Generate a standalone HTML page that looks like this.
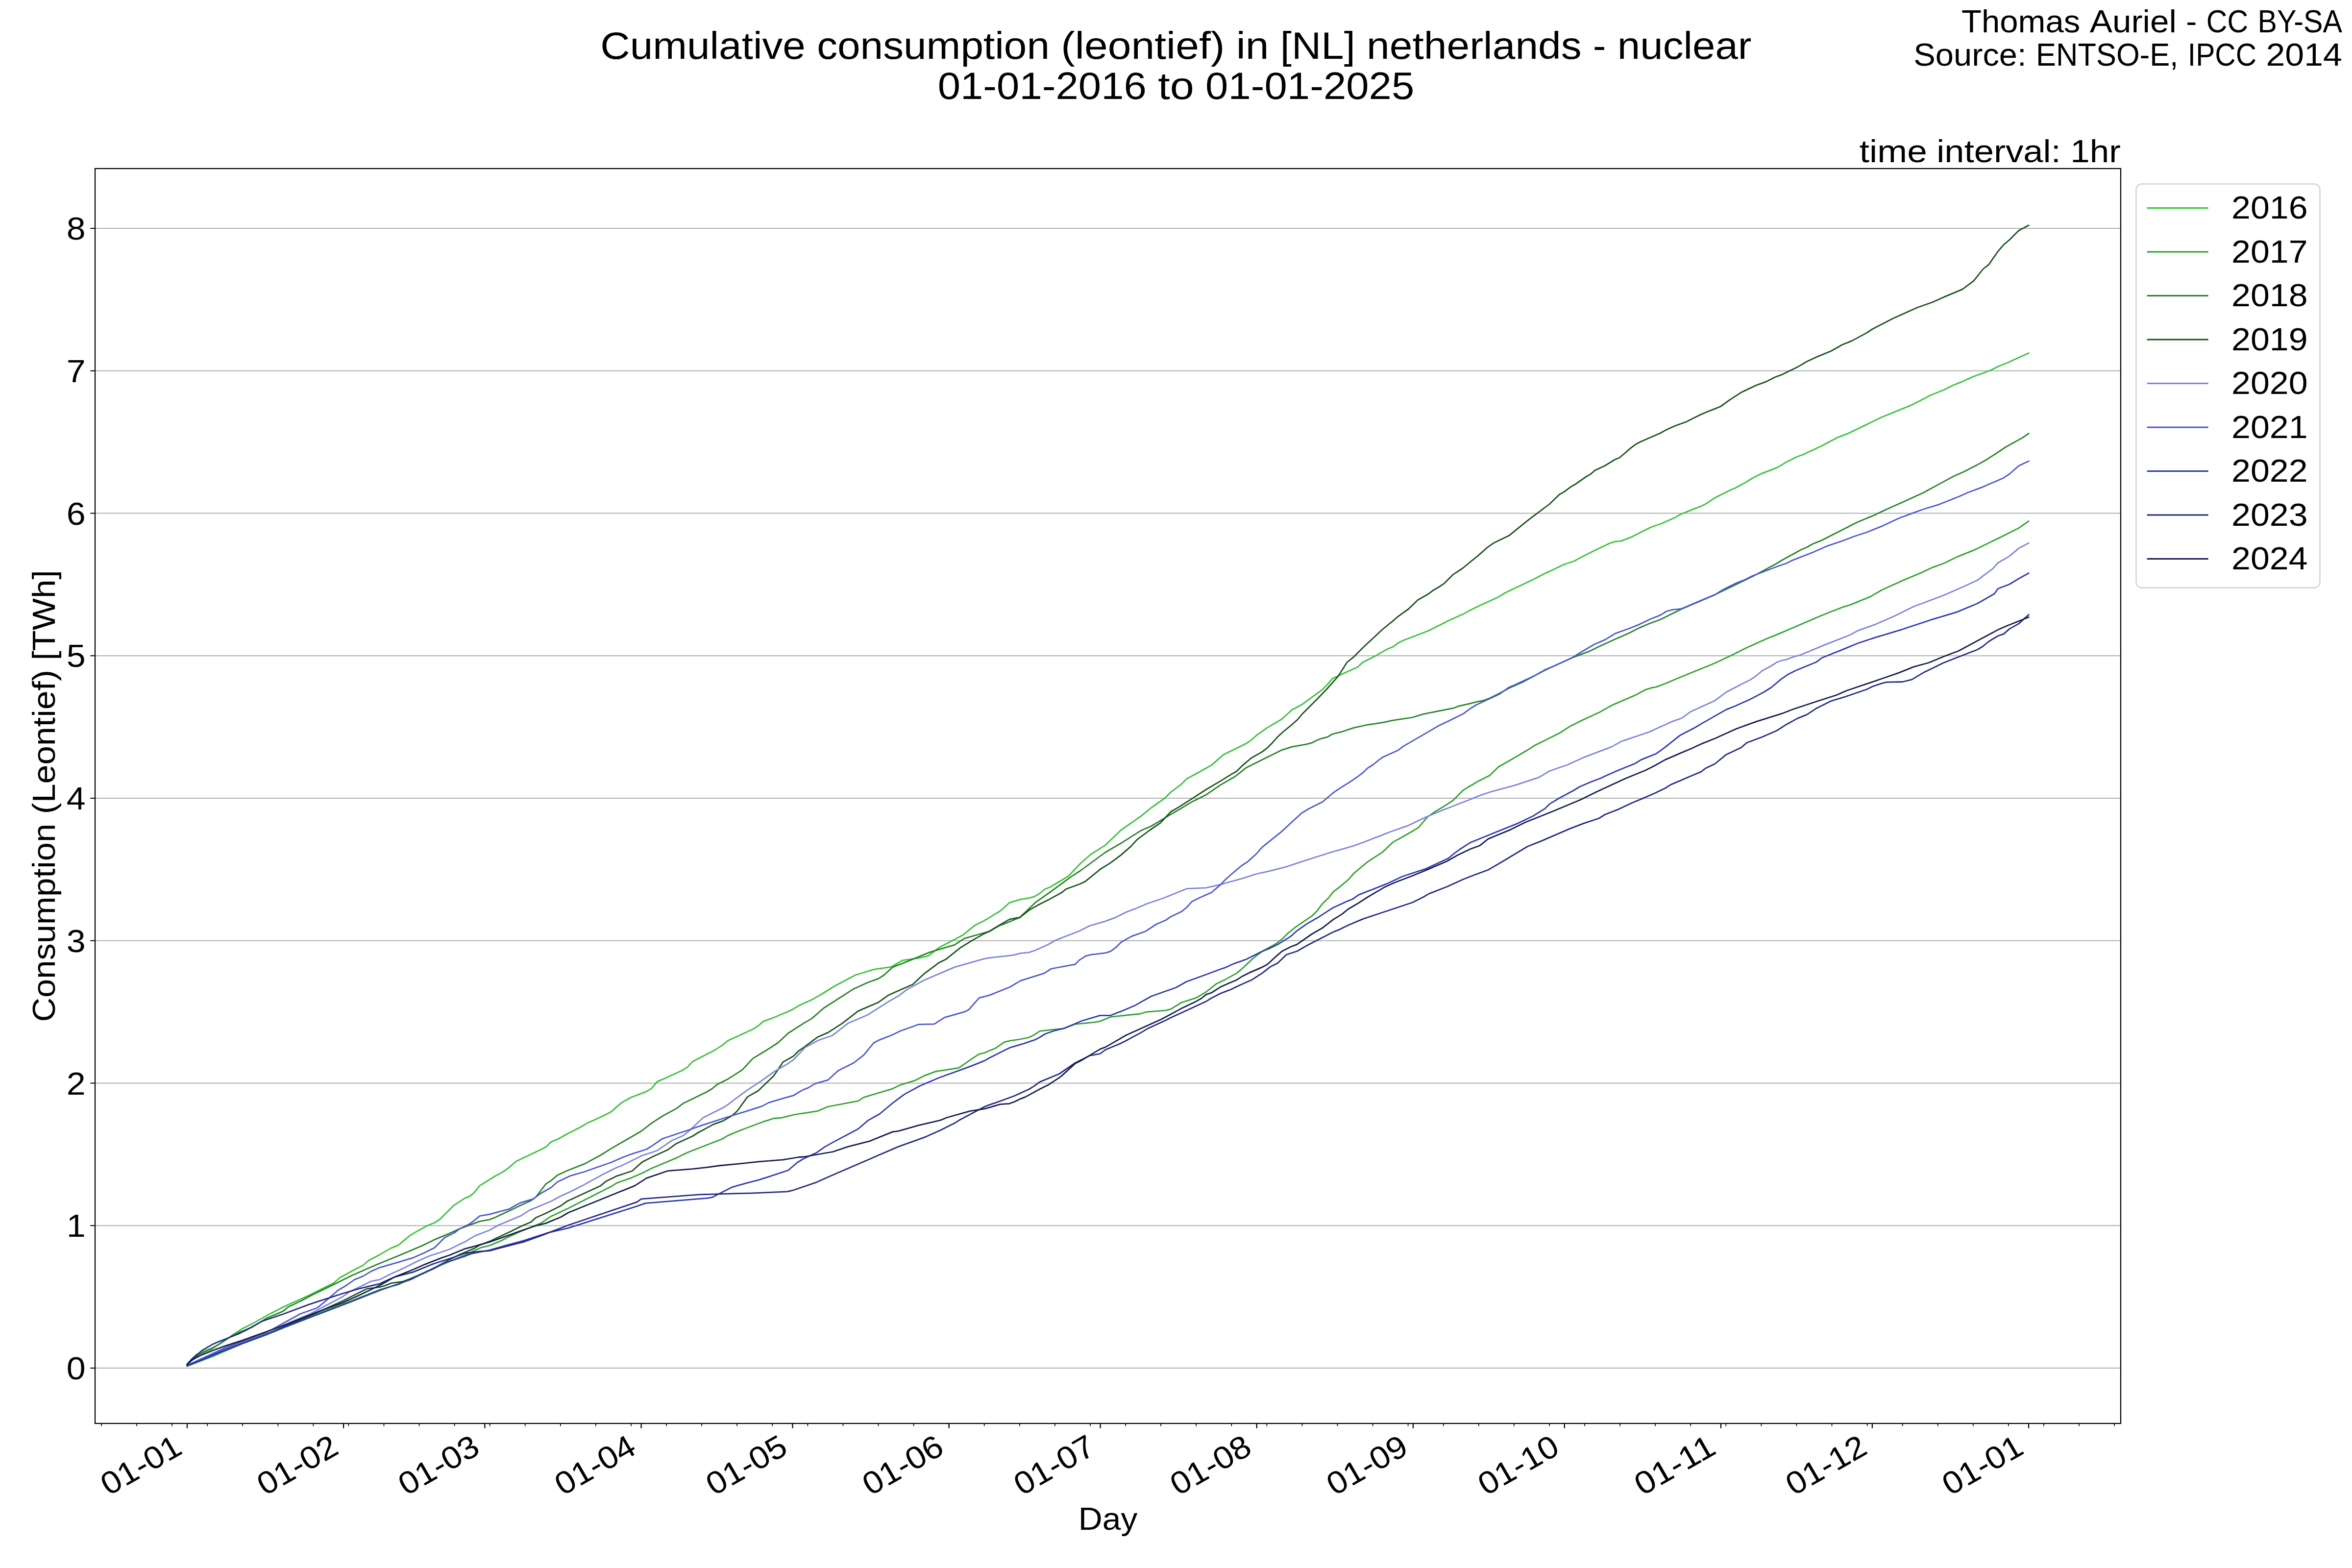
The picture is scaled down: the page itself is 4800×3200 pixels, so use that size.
<!DOCTYPE html>
<html><head><meta charset="utf-8"><title>Cumulative consumption (leontief) in [NL] netherlands - nuclear</title>
<style>html,body{margin:0;padding:0;background:#fff;overflow:hidden;width:4800px;height:3200px}svg{display:block}text{font-family:"Liberation Sans",sans-serif}</style></head>
<body><svg width="4800" height="3200" viewBox="0 0 4800 3200">
<rect x="0" y="0" width="4800" height="3200" fill="#ffffff"/>
<path d="M194 2792H4328M194 2501.25H4328M194 2210.5H4328M194 1919.75H4328M194 1629H4328M194 1338.25H4328M194 1047.5H4328M194 756.75H4328M194 466H4328" stroke="#b0b0b0" stroke-width="2.22" fill="none" stroke-linecap="butt"/>
<clipPath id="ax"><rect x="194" y="344" width="4134" height="2561"/></clipPath>
<g clip-path="url(#ax)" fill="none" stroke-width="2.78" stroke-linejoin="round" stroke-linecap="square">
<path d="M381.9 2783.2 400.5 2764.5 432.8 2750.9 453.2 2739.8 473.6 2725.4 494.0 2711.8 514.5 2701.6 545.1 2684.6 579.1 2666.7 596.1 2659.0 630.1 2643.7 681.1 2618.2 693.0 2608.0 723.6 2591.0 740.6 2582.5 752.6 2572.3 775.0 2560.4 797.8 2547.4 813.1 2541.1 836.0 2521.9 846.2 2515.6 871.7 2501.5 887.0 2495.2 897.2 2488.8 925.3 2460.7 948.3 2445.4 958.5 2441.6 968.7 2432.7 978.9 2419.9 1009.5 2400.8 1022.2 2393.9 1029.9 2389.3 1040.1 2381.6 1052.9 2370.2 1103.9 2345.9 1114.1 2340.8 1124.3 2330.6 1140.0 2324.0 1156.1 2314.7 1182.8 2301.3 1198.9 2291.9 1228.4 2278.5 1247.1 2269.1 1268.5 2250.4 1287.3 2239.7 1319.4 2227.6 1330.1 2220.9 1340.9 2207.6 1359.6 2199.5 1391.7 2184.8 1402.5 2178.1 1413.2 2166.6 1456.0 2144.6 1474.8 2132.6 1485.5 2123.7 1536.4 2100.4 1547.1 2093.7 1557.8 2084.4 1576.5 2077.7 1608.7 2064.3 1619.4 2058.9 1630.1 2052.2 1640.0 2047.7 1657.4 2039.9 1677.9 2028.2 1701.4 2013.5 1745.4 1990.0 1783.5 1978.3 1818.8 1973.3 1842.2 1959.8 1877.4 1954.8 1895.0 1950.4 1915.6 1934.3 1965.5 1907.9 1988.9 1888.8 2006.5 1880.0 2020.0 1872.1 2030.7 1865.4 2040.1 1860.0 2049.5 1852.0 2060.2 1842.1 2081.6 1835.9 2100.3 1832.7 2111.1 1829.8 2121.8 1823.3 2132.5 1814.5 2143.2 1810.5 2180.7 1787.7 2204.8 1762.3 2226.2 1743.5 2255.7 1724.8 2287.8 1694.0 2328.0 1665.9 2349.4 1648.5 2376.2 1629.7 2389.6 1616.3 2411.0 1600.3 2421.7 1589.5 2451.2 1573.5 2472.6 1561.4 2497.0 1540.1 2521.4 1528.2 2542.8 1517.5 2553.6 1510.3 2564.3 1500.7 2585.7 1485.4 2615.2 1468.0 2636.6 1448.7 2658.0 1437.2 2698.2 1407.7 2708.9 1397.0 2719.6 1384.4 2759.8 1366.2 2770.5 1361.4 2781.2 1351.5 2808.0 1338.1 2821.4 1330.1 2832.1 1324.2 2842.8 1320.1 2853.5 1312.1 2864.2 1306.8 2915.1 1287.2 2955.3 1267.1 2987.4 1252.4 3000.0 1245.6 3019.9 1235.7 3039.8 1226.7 3056.4 1219.1 3072.9 1209.2 3129.3 1182.6 3152.5 1170.4 3162.5 1166.1 3192.3 1151.8 3212.2 1145.2 3225.5 1137.9 3252.0 1124.6 3285.1 1108.7 3295.1 1105.4 3308.4 1104.1 3328.2 1096.4 3368.0 1076.5 3391.2 1068.2 3417.8 1056.6 3431.0 1049.0 3450.9 1041.1 3470.8 1033.4 3480.8 1028.5 3490.7 1021.8 3500.0 1015.8 3530.6 1000.5 3542.1 995.5 3561.2 985.2 3576.5 975.7 3595.7 966.1 3626.3 954.6 3645.4 943.1 3668.3 931.7 3679.8 927.8 3718.1 909.8 3748.7 893.4 3771.7 884.6 3840.5 851.3 3901.7 826.4 3940.0 806.5 3966.8 795.8 3985.9 786.3 4005.0 778.6 4028.0 768.3 4062.4 755.7 4077.7 748.0 4096.9 740.3 4140.1 720.5" stroke="#33c233"/>
<path d="M381.9 2788.3 434.5 2767.9 494.0 2742.4 545.1 2723.7 587.6 2705.8 647.1 2681.2 715.1 2655.6 775.0 2631.8 813.1 2621.4 856.4 2601.0 917.7 2574.2 948.3 2561.5 981.4 2546.2 999.3 2541.8 1019.7 2533.4 1042.7 2521.9 1063.1 2513.0 1103.9 2496.4 1124.3 2482.4 1160.0 2465.8 1249.8 2419.9 1257.8 2414.6 1290.0 2403.1 1311.4 2393.7 1330.1 2384.3 1381.0 2362.9 1402.5 2352.2 1474.8 2324.0 1485.5 2317.4 1514.9 2305.3 1557.8 2289.2 1579.2 2282.5 1595.3 2281.2 1622.1 2274.5 1640.0 2271.8 1669.1 2267.3 1689.6 2258.5 1751.3 2246.8 1763.0 2239.4 1821.7 2221.8 1836.4 2214.5 1865.7 2205.7 1886.2 2195.4 1909.7 2186.6 1956.7 2179.3 1980.1 2163.2 1997.7 2151.4 2009.5 2148.5 2020.0 2143.8 2030.7 2139.8 2049.5 2126.9 2060.2 2124.2 2081.6 2121.0 2100.3 2117.0 2111.1 2111.7 2121.8 2104.4 2137.8 2102.3 2170.0 2099.1 2194.1 2090.2 2212.8 2088.4 2234.2 2086.2 2245.0 2084.1 2266.4 2075.5 2277.1 2074.2 2328.0 2068.8 2338.7 2065.3 2349.4 2064.3 2378.9 2062.1 2389.6 2059.4 2411.0 2046.0 2440.5 2036.7 2459.2 2026.0 2483.3 2007.2 2500.0 1999.4 2524.5 1985.6 2533.7 1977.9 2558.2 1955.0 2576.5 1941.2 2604.1 1925.9 2616.4 1916.7 2628.6 1904.5 2643.9 1892.2 2677.6 1869.2 2686.8 1860.1 2699.0 1844.1 2711.3 1832.5 2720.5 1820.3 2732.7 1811.1 2751.1 1795.8 2763.3 1782.0 2790.9 1759.0 2800.1 1752.9 2821.5 1739.1 2842.9 1718.6 2861.3 1708.5 2882.7 1696.3 2895.0 1688.6 2913.3 1667.2 2928.7 1656.4 2944.0 1647.3 2965.4 1633.5 2986.8 1612.1 3000.0 1604.2 3018.4 1593.4 3039.8 1582.7 3058.2 1565.0 3088.8 1547.5 3116.4 1531.3 3131.7 1521.5 3162.3 1506.2 3183.7 1495.5 3205.1 1481.7 3226.6 1471.0 3263.3 1454.1 3290.9 1438.8 3336.8 1418.9 3358.2 1407.6 3370.5 1403.6 3379.7 1402.1 3398.0 1395.3 3428.7 1382.2 3500.0 1353.2 3542.1 1333.3 3561.2 1323.4 3607.1 1302.7 3626.3 1295.1 3660.7 1280.5 3718.1 1255.7 3760.2 1239.2 3775.5 1234.6 3817.6 1217.4 3840.5 1204.0 3882.6 1184.9 3920.9 1168.8 3943.8 1158.1 3966.8 1149.7 3997.4 1135.1 4028.0 1122.9 4085.4 1095.0 4119.8 1077.7 4140.1 1063.6" stroke="#2aa22a"/>
<path d="M381.9 2784.9 405.6 2764.5 432.8 2752.6 477.0 2723.7 514.5 2708.4 545.1 2689.7 577.4 2676.1 587.6 2667.6 613.1 2655.6 638.6 2642.0 681.1 2621.6 715.1 2604.6 749.1 2589.3 775.0 2578.3 813.1 2562.8 864.1 2541.1 884.5 2530.9 915.1 2518.1 940.6 2506.6 978.9 2492.6 999.3 2488.8 1009.5 2484.9 1042.7 2469.6 1063.1 2459.4 1083.5 2450.5 1093.7 2442.9 1114.1 2416.1 1124.3 2409.7 1137.2 2398.6 1156.1 2389.7 1193.6 2374.9 1225.7 2357.5 1247.1 2344.1 1308.7 2308.5 1330.1 2291.9 1351.6 2278.0 1381.0 2261.9 1394.4 2251.7 1442.6 2228.2 1453.3 2221.7 1464.0 2212.9 1485.5 2202.2 1514.9 2183.4 1536.4 2160.1 1557.8 2147.3 1587.2 2128.5 1608.7 2108.5 1640.0 2088.4 1657.4 2078.1 1680.8 2057.5 1742.5 2017.9 1771.8 2004.7 1792.3 1997.4 1804.1 1990.0 1821.7 1973.9 1848.1 1963.6 1898.0 1943.1 1947.9 1928.4 1968.4 1915.2 2009.5 1903.5 2020.0 1900.2 2038.7 1889.5 2049.5 1885.5 2081.6 1872.1 2113.7 1841.3 2140.5 1822.5 2186.0 1789.1 2204.8 1777.0 2255.7 1739.5 2287.8 1720.8 2328.0 1695.3 2349.4 1686.0 2389.6 1661.9 2405.6 1652.5 2432.4 1636.4 2461.9 1621.7 2491.3 1601.6 2520.0 1585.0 2526.8 1579.9 2542.8 1567.1 2572.3 1552.3 2615.2 1530.9 2636.6 1524.2 2666.0 1518.9 2676.8 1516.2 2687.5 1510.8 2698.2 1506.8 2708.9 1504.1 2719.6 1498.0 2735.7 1494.2 2762.5 1485.4 2789.2 1479.5 2821.4 1474.7 2842.8 1470.1 2883.0 1464.0 2904.4 1457.3 2966.0 1445.2 2976.7 1441.2 3000.0 1435.8 3012.2 1432.7 3027.6 1429.6 3039.8 1425.0 3055.1 1417.4 3079.6 1404.5 3107.2 1392.3 3131.7 1379.1 3153.1 1366.9 3171.5 1359.2 3208.2 1342.4 3244.9 1328.6 3263.3 1319.4 3293.9 1305.6 3324.6 1291.9 3346.0 1281.1 3367.4 1272.0 3388.9 1264.3 3410.3 1253.6 3431.7 1242.9 3500.0 1213.6 3542.1 1193.3 3576.5 1176.5 3626.3 1149.7 3637.7 1142.8 3676.0 1121.7 3687.5 1116.8 3699.0 1110.3 3718.1 1102.6 3790.8 1065.5 3821.4 1052.9 3848.2 1040.2 3882.6 1024.9 3924.7 1005.8 3966.8 982.9 3985.9 972.5 4008.9 962.2 4035.7 948.4 4051.0 940.0 4070.1 927.8 4093.0 912.5 4127.5 893.4 4140.1 884.6" stroke="#238224"/>
<path d="M381.9 2786.6 460.0 2754.3 545.1 2722.0 630.1 2686.3 698.1 2655.6 749.1 2630.1 775.0 2626.7 785.0 2624.0 797.8 2618.9 823.3 2615.1 856.4 2602.3 889.6 2585.7 917.7 2570.4 938.1 2560.2 968.7 2547.4 978.9 2541.1 999.3 2533.4 1042.7 2513.0 1063.1 2502.8 1083.5 2493.9 1093.7 2484.9 1114.1 2476.0 1144.7 2460.7 1157.4 2451.5 1225.7 2419.9 1236.4 2411.1 1257.8 2400.4 1290.0 2389.7 1311.4 2370.9 1332.8 2360.2 1362.3 2346.8 1381.0 2333.4 1413.2 2318.7 1423.9 2312.0 1456.0 2294.6 1474.8 2287.9 1493.5 2277.2 1504.2 2267.8 1525.6 2238.4 1547.1 2226.3 1579.2 2195.5 1598.0 2167.4 1619.4 2155.3 1630.1 2144.6 1640.0 2137.9 1669.1 2116.2 1689.6 2107.4 1719.0 2088.3 1751.3 2063.4 1792.3 2045.8 1812.9 2031.1 1862.8 2009.1 1886.2 1987.1 1915.6 1965.1 1930.3 1957.8 1959.6 1934.3 1986.0 1918.1 2009.5 1904.9 2020.0 1900.2 2030.7 1893.5 2060.2 1876.1 2081.6 1872.1 2100.3 1857.4 2121.8 1845.3 2140.5 1835.9 2167.3 1821.2 2175.3 1814.5 2204.8 1803.8 2215.5 1798.4 2245.0 1774.3 2266.4 1760.9 2287.8 1744.9 2309.2 1726.1 2319.9 1714.1 2346.7 1694.0 2368.2 1679.3 2389.6 1656.5 2405.6 1647.1 2435.1 1628.4 2461.9 1611.0 2491.3 1593.6 2513.4 1579.9 2524.1 1573.8 2534.8 1563.1 2553.6 1547.0 2575.0 1534.9 2585.7 1526.9 2596.4 1516.2 2607.1 1504.1 2617.8 1494.2 2636.6 1478.7 2647.3 1469.3 2658.0 1456.7 2687.5 1427.3 2708.9 1405.0 2730.3 1380.9 2749.1 1351.5 2762.5 1340.8 2781.2 1322.0 2821.4 1284.5 2842.8 1267.1 2853.5 1257.8 2874.9 1242.5 2893.7 1224.3 2915.1 1212.2 2925.8 1204.2 2936.5 1198.0 2947.2 1190.8 2955.3 1182.8 2966.0 1172.1 2984.7 1160.0 3000.0 1147.2 3016.6 1133.9 3036.5 1116.3 3049.7 1107.4 3079.6 1093.1 3106.1 1071.6 3122.7 1058.3 3162.5 1028.5 3182.4 1009.2 3192.3 1003.6 3205.6 993.6 3215.5 988.0 3235.4 973.8 3245.4 968.1 3255.3 959.8 3275.2 950.5 3295.1 938.3 3305.0 934.0 3315.0 925.7 3328.2 914.1 3338.2 906.8 3348.1 901.5 3387.9 884.2 3397.9 878.6 3417.8 869.3 3441.0 861.0 3470.8 846.1 3480.8 841.8 3500.0 834.1 3511.5 829.5 3530.6 815.7 3553.6 800.8 3584.2 786.3 3603.3 779.4 3622.4 769.8 3637.7 764.1 3668.3 749.1 3687.5 737.7 3706.6 728.9 3737.2 716.2 3760.2 703.2 3779.3 695.6 3809.9 679.1 3821.4 671.5 3863.5 649.7 3913.2 627.5 3943.8 616.8 3966.8 606.4 4005.0 590.4 4028.0 573.1 4047.1 549.0 4058.6 540.2 4077.7 512.7 4089.2 499.3 4100.7 489.7 4119.8 470.6 4140.1 459.9" stroke="#165217"/>
<path d="M381.9 2786.6 460.0 2750.0 545.1 2717.7 630.1 2682.9 698.1 2647.1 715.1 2635.2 740.6 2623.3 757.7 2614.8 775.0 2611.4 795.2 2601.0 818.2 2590.8 853.9 2573.0 874.3 2564.0 917.7 2549.5 938.1 2539.3 948.3 2534.7 968.7 2522.4 999.3 2510.5 1017.1 2500.3 1063.1 2481.1 1080.9 2469.6 1103.9 2460.2 1124.3 2451.8 1144.7 2440.8 1160.0 2433.9 1188.2 2419.9 1228.4 2397.7 1257.8 2383.0 1268.5 2379.0 1308.7 2358.9 1340.9 2348.2 1370.3 2328.1 1394.4 2317.4 1407.8 2306.6 1434.6 2281.2 1453.3 2271.8 1474.8 2261.1 1485.5 2254.4 1496.2 2245.8 1525.6 2224.4 1555.1 2204.9 1579.2 2187.5 1608.7 2170.1 1619.4 2162.8 1642.8 2137.9 1669.1 2123.5 1698.5 2113.3 1730.7 2088.3 1771.8 2070.7 1812.9 2044.3 1833.4 2032.6 1851.0 2019.4 1886.2 2000.3 1947.9 1973.9 2009.5 1956.3 2020.0 1954.6 2052.1 1951.1 2068.2 1949.2 2081.6 1945.7 2100.3 1943.6 2113.7 1939.0 2137.8 1928.3 2153.9 1919.0 2202.1 1900.2 2223.5 1889.5 2255.7 1880.1 2277.1 1872.1 2298.5 1861.4 2319.9 1853.3 2341.4 1844.0 2373.5 1833.3 2421.7 1813.7 2461.9 1811.8 2491.3 1805.1 2500.0 1802.5 2530.6 1794.2 2564.3 1783.5 2585.7 1778.9 2625.5 1768.8 2653.1 1759.6 2683.7 1749.8 2714.3 1740.0 2760.3 1726.9 2781.7 1719.2 2821.5 1703.9 2836.8 1697.8 2873.5 1684.9 2907.2 1668.7 2944.0 1653.4 2956.2 1648.8 2977.6 1640.2 3000.0 1631.7 3018.4 1624.1 3042.9 1615.8 3091.9 1602.6 3140.8 1586.4 3162.3 1573.5 3199.0 1560.7 3232.7 1545.4 3287.8 1524.6 3309.2 1512.9 3367.4 1493.3 3379.7 1487.2 3398.0 1479.2 3410.3 1473.4 3431.7 1465.8 3450.1 1452.6 3500.0 1429.7 3523.0 1412.5 3549.7 1398.4 3572.7 1386.9 3584.2 1379.2 3595.7 1369.3 3614.8 1359.0 3626.3 1351.3 3637.7 1347.5 3645.4 1346.3 3656.9 1341.7 3676.0 1336.0 3721.9 1316.9 3775.5 1295.8 3790.8 1287.4 3829.0 1273.6 3867.3 1256.8 3905.6 1237.7 3924.7 1230.8 3966.8 1214.7 4005.0 1198.3 4035.7 1184.1 4047.1 1175.3 4066.3 1161.1 4077.7 1148.5 4100.7 1135.1 4119.8 1119.1 4140.1 1108.3" stroke="#7a82dc"/>
<path d="M381.9 2786.6 460.0 2750.9 545.1 2718.6 613.1 2681.2 647.1 2669.3 664.1 2655.6 689.6 2633.5 706.6 2623.3 723.6 2611.4 740.6 2604.6 757.7 2594.4 775.0 2586.8 805.4 2578.1 843.7 2566.6 866.6 2556.4 876.8 2551.3 887.0 2546.2 907.4 2525.8 927.9 2515.6 938.1 2507.9 958.5 2497.7 968.7 2490.1 978.9 2481.6 999.3 2478.1 1040.1 2467.1 1050.3 2460.7 1063.1 2454.3 1088.6 2446.7 1103.9 2435.2 1124.3 2423.7 1137.2 2412.3 1164.1 2399.6 1193.6 2391.0 1247.1 2372.3 1268.5 2362.9 1290.0 2354.8 1319.4 2345.5 1330.1 2338.8 1351.6 2324.0 1407.8 2305.3 1434.6 2295.9 1488.2 2278.5 1523.0 2267.8 1555.1 2257.6 1568.5 2250.4 1595.3 2242.4 1619.4 2235.7 1630.1 2229.0 1640.0 2223.6 1648.6 2220.4 1663.2 2211.6 1689.6 2204.2 1710.2 2185.2 1742.5 2169.0 1763.0 2152.9 1783.5 2127.9 1795.3 2122.1 1821.7 2111.8 1836.4 2104.5 1874.5 2090.7 1906.8 2089.8 1927.3 2076.6 1968.4 2064.9 1977.2 2060.5 1998.1 2036.7 2019.2 2031.1 2061.3 2014.2 2082.3 2001.6 2131.4 1986.2 2145.5 1977.0 2194.6 1967.9 2202.1 1959.9 2215.5 1951.1 2226.2 1948.4 2255.7 1944.9 2266.4 1941.7 2277.1 1933.7 2287.8 1923.0 2309.2 1910.9 2338.7 1900.2 2360.1 1886.0 2378.9 1878.0 2389.6 1870.7 2411.0 1860.6 2421.7 1852.0 2432.4 1839.9 2448.5 1831.9 2472.6 1821.2 2491.3 1805.1 2500.0 1795.8 2512.2 1785.0 2533.7 1766.7 2545.9 1759.0 2564.3 1742.2 2576.5 1728.4 2591.9 1716.2 2616.4 1696.3 2637.8 1676.4 2656.2 1659.5 2671.5 1650.3 2689.8 1641.1 2699.0 1636.5 2720.5 1618.2 2738.8 1605.9 2751.1 1598.3 2769.4 1586.0 2781.7 1576.8 2790.9 1567.7 2803.1 1560.0 2813.3 1551.5 2821.4 1545.6 2853.5 1530.9 2864.2 1522.9 2915.1 1493.4 2936.5 1480.8 2955.3 1472.0 2987.4 1455.9 3000.0 1446.5 3012.2 1438.8 3039.8 1426.0 3061.2 1415.9 3079.6 1402.7 3091.9 1397.5 3131.7 1379.1 3153.1 1367.8 3171.5 1359.2 3208.2 1342.4 3226.6 1331.0 3254.1 1314.8 3275.6 1305.6 3297.0 1292.5 3324.6 1282.7 3346.0 1274.1 3367.4 1263.7 3388.9 1255.1 3401.1 1247.5 3413.3 1244.4 3431.7 1242.3 3459.3 1230.6 3500.0 1213.6 3515.3 1204.0 3542.1 1190.6 3561.2 1183.0 3576.5 1175.3 3607.1 1163.8 3626.3 1156.2 3645.4 1149.7 3656.9 1143.9 3699.0 1127.5 3729.6 1114.1 3760.2 1103.8 3783.1 1095.0 3809.9 1086.2 3840.5 1073.9 3875.0 1057.8 3905.6 1046.4 3924.7 1039.5 3959.1 1028.8 3997.4 1013.5 4016.5 1005.0 4047.1 993.6 4089.2 975.2 4100.7 967.5 4119.8 950.7 4140.1 941.1" stroke="#4a55d2"/>
<path d="M381.9 2787.4 460.0 2755.1 545.1 2722.8 630.1 2689.7 715.1 2657.3 775.0 2633.5 805.4 2622.7 838.6 2611.2 853.9 2603.6 887.0 2588.3 902.3 2579.3 948.3 2564.0 961.0 2558.9 978.9 2555.1 999.3 2551.3 1029.9 2542.3 1068.2 2532.1 1119.2 2515.6 1160.0 2506.1 1300.0 2461.6 1317.0 2455.6 1444.6 2445.1 1453.1 2443.7 1493.9 2422.8 1504.2 2419.9 1525.6 2413.8 1547.1 2408.4 1568.5 2401.7 1608.7 2388.3 1627.4 2372.3 1640.0 2364.8 1667.3 2351.9 1683.8 2340.1 1704.3 2328.9 1751.3 2304.0 1771.8 2286.4 1795.3 2273.2 1821.7 2251.2 1845.2 2233.6 1877.4 2216.0 1915.6 2199.8 1980.1 2176.4 2009.5 2164.6 2020.0 2158.5 2030.7 2153.2 2060.2 2138.4 2089.6 2129.6 2111.1 2122.4 2121.8 2117.0 2132.5 2110.3 2153.9 2102.8 2172.7 2098.3 2207.5 2083.5 2245.0 2072.3 2266.4 2072.3 2295.8 2060.8 2317.3 2051.4 2349.4 2033.2 2400.3 2015.2 2421.7 2003.2 2440.5 1996.5 2491.3 1977.8 2500.0 1974.9 2518.4 1966.6 2542.9 1958.0 2564.3 1947.3 2576.5 1941.2 2591.9 1935.1 2610.2 1925.9 2634.7 1910.6 2647.0 1899.3 2668.4 1884.6 2689.8 1872.3 2720.5 1852.4 2751.1 1838.6 2760.3 1835.0 2772.5 1826.4 2830.7 1803.4 2861.3 1789.0 2910.3 1772.8 2956.2 1751.4 2965.4 1743.7 2977.6 1734.5 3000.0 1719.8 3098.0 1680.1 3128.6 1665.4 3140.8 1657.7 3153.1 1650.1 3162.3 1640.9 3183.7 1628.0 3211.3 1613.3 3223.5 1605.7 3244.9 1596.5 3266.4 1588.2 3284.8 1579.7 3306.2 1570.5 3336.8 1558.2 3349.1 1550.6 3379.7 1538.3 3398.0 1525.2 3428.7 1500.7 3459.3 1484.8 3474.6 1475.6 3500.0 1461.1 3523.0 1448.1 3542.1 1440.5 3572.7 1426.7 3599.5 1412.5 3614.8 1403.0 3633.9 1386.9 3649.2 1376.2 3664.5 1368.5 3687.5 1359.0 3706.6 1351.3 3718.1 1342.5 3767.8 1322.6 3790.8 1313.0 3825.2 1301.6 3882.6 1284.3 3940.0 1265.2 3993.6 1249.1 4035.7 1231.5 4058.6 1218.5 4070.1 1211.7 4077.7 1201.3 4100.7 1192.5 4119.8 1181.0 4140.1 1169.6" stroke="#2d35b3"/>
<path d="M381.9 2784.9 392.0 2773.0 412.4 2756.0 432.8 2744.1 446.4 2738.1 470.2 2728.8 487.2 2722.0 507.7 2711.8 517.9 2705.8 536.6 2695.6 577.4 2682.0 630.1 2662.4 655.6 2653.9 698.1 2640.3 732.1 2630.1 775.0 2619.9 782.4 2616.3 805.4 2606.1 843.7 2595.9 884.5 2579.3 927.9 2565.3 948.3 2557.7 978.9 2553.8 999.3 2552.6 1042.7 2541.1 1068.2 2534.7 1103.9 2521.9 1160.0 2500.3 1300.0 2453.1 1308.5 2446.8 1427.6 2437.8 1538.1 2434.9 1606.1 2431.8 1618.0 2429.3 1665.6 2413.1 1700.0 2397.8 1833.4 2340.1 1889.2 2320.1 1921.5 2305.5 1947.9 2292.3 1959.6 2284.9 2009.5 2258.5 2020.0 2254.4 2030.7 2250.9 2070.9 2236.2 2100.3 2222.8 2111.1 2216.1 2121.8 2208.1 2161.9 2191.5 2194.1 2169.2 2223.5 2154.5 2245.0 2150.5 2255.7 2142.5 2287.8 2129.1 2295.8 2125.0 2328.0 2107.6 2341.4 2099.6 2378.9 2082.2 2389.6 2076.8 2411.0 2066.9 2461.9 2043.4 2472.6 2036.7 2491.3 2027.3 2500.0 2023.9 2512.2 2019.3 2524.5 2013.2 2555.1 1999.4 2576.5 1985.6 2591.9 1973.3 2607.2 1965.7 2625.5 1948.2 2647.0 1941.2 2668.4 1929.0 2720.5 1902.3 2732.7 1897.4 2751.1 1888.2 2781.7 1875.4 2809.2 1866.2 2882.7 1841.7 2904.2 1831.0 2916.4 1823.9 2953.2 1809.5 2986.8 1794.2 3000.0 1789.0 3037.0 1775.2 3060.0 1762.0 3117.4 1727.5 3146.1 1716.1 3203.4 1691.4 3232.7 1680.1 3263.3 1670.0 3275.6 1662.3 3303.1 1651.6 3330.7 1638.5 3358.2 1627.1 3376.6 1618.9 3398.0 1608.8 3410.3 1601.1 3453.2 1582.7 3471.5 1575.1 3480.7 1568.0 3500.0 1558.8 3523.0 1539.9 3553.6 1525.4 3565.0 1515.8 3595.7 1504.3 3626.3 1491.0 3645.4 1478.7 3668.3 1466.1 3687.5 1458.4 3706.6 1445.8 3737.2 1430.5 3767.8 1421.3 3809.9 1406.8 3821.4 1401.0 3844.3 1393.4 3852.0 1392.2 3882.6 1391.5 3901.7 1386.9 3924.7 1373.1 3966.8 1352.5 4008.9 1336.0 4035.7 1325.7 4047.1 1318.8 4058.6 1309.2 4077.7 1297.7 4089.2 1293.9 4100.7 1283.6 4119.8 1272.9 4140.1 1254.5" stroke="#202885"/>
<path d="M381.9 2784.9 392.0 2775.5 409.0 2766.2 434.5 2756.0 460.0 2746.6 494.0 2735.6 536.6 2720.3 584.2 2703.3 613.1 2691.4 647.1 2677.8 698.1 2659.0 732.1 2643.7 775.0 2623.3 805.4 2606.1 843.7 2590.8 866.6 2580.6 902.3 2566.6 917.7 2561.5 948.3 2548.7 961.0 2545.4 999.3 2534.7 1042.7 2519.4 1063.1 2511.7 1093.7 2501.5 1114.1 2496.4 1144.7 2483.7 1160.0 2474.7 1295.3 2419.9 1311.4 2409.7 1319.4 2404.4 1362.3 2389.7 1413.2 2385.6 1442.6 2382.4 1466.7 2379.0 1514.9 2374.4 1547.1 2370.9 1598.0 2366.9 1630.1 2361.5 1640.0 2361.0 1700.0 2350.5 1730.7 2340.1 1774.7 2328.9 1821.7 2309.9 1833.4 2308.4 1874.5 2296.7 1918.5 2286.4 1933.2 2280.5 1980.1 2267.3 2009.5 2262.9 2020.0 2259.8 2041.4 2253.6 2060.2 2252.3 2070.9 2248.2 2081.6 2242.9 2092.3 2238.9 2121.8 2222.8 2140.5 2213.4 2164.6 2197.4 2194.1 2170.6 2207.5 2163.9 2245.0 2141.1 2255.7 2137.1 2298.5 2112.5 2368.2 2080.9 2378.9 2075.5 2411.0 2058.1 2440.5 2043.9 2451.2 2038.0 2461.9 2029.4 2472.6 2026.0 2491.3 2013.9 2500.0 2010.1 2524.5 1999.4 2533.7 1993.3 2552.1 1984.1 2573.5 1974.9 2585.7 1968.8 2604.1 1951.9 2616.4 1941.2 2634.7 1932.0 2647.0 1927.4 2677.6 1906.0 2699.0 1893.7 2720.5 1876.9 2738.8 1865.6 2751.1 1855.5 2769.4 1844.8 2790.9 1831.0 2824.6 1811.1 2846.0 1801.3 2882.7 1787.2 2910.3 1775.9 2953.2 1757.5 2974.6 1745.2 3000.0 1733.0 3019.8 1725.8 3037.0 1712.1 3082.9 1693.1 3111.6 1678.8 3169.0 1655.8 3226.4 1631.7 3257.2 1616.4 3293.9 1599.6 3318.4 1588.2 3358.2 1572.0 3376.6 1562.8 3398.0 1550.6 3428.7 1537.4 3453.2 1527.0 3471.5 1518.4 3500.0 1507.0 3542.1 1487.9 3584.2 1472.6 3637.7 1455.8 3660.7 1447.0 3706.6 1431.7 3748.7 1418.3 3767.8 1409.8 3844.3 1383.8 3875.0 1373.1 3905.6 1360.9 3936.2 1352.5 3966.8 1339.8 3997.4 1328.3 4016.5 1318.0 4047.1 1301.6 4077.7 1285.1 4096.9 1276.7 4140.1 1259.5" stroke="#141a52"/>
</g>
<rect x="194" y="344" width="4134" height="2561" fill="none" stroke="#000" stroke-width="2.22" stroke-linejoin="miter"/>
<path d="M194 2792h-9.72M194 2501.25h-9.72M194 2210.5h-9.72M194 1919.75h-9.72M194 1629h-9.72M194 1338.25h-9.72M194 1047.5h-9.72M194 756.75h-9.72M194 466h-9.72M381.91 2905v9.72M701.1 2905v9.72M989.4 2905v9.72M1308.59 2905v9.72M1617.48 2905v9.72M1936.67 2905v9.72M2245.56 2905v9.72M2564.75 2905v9.72M2883.94 2905v9.72M3192.83 2905v9.72M3512.02 2905v9.72M3820.91 2905v9.72M4140.1 2905v9.72" stroke="#000" stroke-width="2.22" fill="none"/>
<path d="M206.87 2905v5.56M278.95 2905v5.56M351.02 2905v5.56M423.1 2905v5.56M495.17 2905v5.56M567.25 2905v5.56M639.32 2905v5.56M711.39 2905v5.56M783.47 2905v5.56M855.54 2905v5.56M927.62 2905v5.56M999.69 2905v5.56M1071.77 2905v5.56M1143.84 2905v5.56M1215.92 2905v5.56M1287.99 2905v5.56M1360.07 2905v5.56M1432.14 2905v5.56M1504.22 2905v5.56M1576.29 2905v5.56M1648.37 2905v5.56M1720.44 2905v5.56M1792.52 2905v5.56M1864.59 2905v5.56M1936.67 2905v5.56M2008.74 2905v5.56M2080.82 2905v5.56M2152.89 2905v5.56M2224.97 2905v5.56M2297.04 2905v5.56M2369.12 2905v5.56M2441.19 2905v5.56M2513.26 2905v5.56M2585.34 2905v5.56M2657.41 2905v5.56M2729.49 2905v5.56M2801.56 2905v5.56M2873.64 2905v5.56M2945.71 2905v5.56M3017.79 2905v5.56M3089.86 2905v5.56M3161.94 2905v5.56M3234.01 2905v5.56M3306.09 2905v5.56M3378.16 2905v5.56M3450.24 2905v5.56M3522.31 2905v5.56M3594.39 2905v5.56M3666.46 2905v5.56M3738.54 2905v5.56M3810.61 2905v5.56M3882.69 2905v5.56M3954.76 2905v5.56M4026.84 2905v5.56M4098.91 2905v5.56M4170.99 2905v5.56M4243.06 2905v5.56M4315.13 2905v5.56" stroke="#000" stroke-width="1.67" fill="none"/>
<g font-family="&quot;Liberation Sans&quot;, sans-serif" fill="#000">
<text y="0" font-size="64.75" transform="translate(221.77 3053.45) rotate(-30)"><tspan x="0" textLength="177.58" lengthAdjust="spacingAndGlyphs">01-01</tspan></text>
<text y="0" font-size="64.75" transform="translate(540.96 3053.45) rotate(-30)"><tspan x="0" textLength="177.58" lengthAdjust="spacingAndGlyphs">01-02</tspan></text>
<text y="0" font-size="64.75" transform="translate(829.26 3053.45) rotate(-30)"><tspan x="0" textLength="177.58" lengthAdjust="spacingAndGlyphs">01-03</tspan></text>
<text y="0" font-size="64.75" transform="translate(1148.44 3053.45) rotate(-30)"><tspan x="0" textLength="177.58" lengthAdjust="spacingAndGlyphs">01-04</tspan></text>
<text y="0" font-size="64.75" transform="translate(1457.34 3053.45) rotate(-30)"><tspan x="0" textLength="177.58" lengthAdjust="spacingAndGlyphs">01-05</tspan></text>
<text y="0" font-size="64.75" transform="translate(1776.52 3053.45) rotate(-30)"><tspan x="0" textLength="177.58" lengthAdjust="spacingAndGlyphs">01-06</tspan></text>
<text y="0" font-size="64.75" transform="translate(2085.42 3053.45) rotate(-30)"><tspan x="0" textLength="177.58" lengthAdjust="spacingAndGlyphs">01-07</tspan></text>
<text y="0" font-size="64.75" transform="translate(2404.6 3053.45) rotate(-30)"><tspan x="0" textLength="177.58" lengthAdjust="spacingAndGlyphs">01-08</tspan></text>
<text y="0" font-size="64.75" transform="translate(2723.79 3053.45) rotate(-30)"><tspan x="0" textLength="177.58" lengthAdjust="spacingAndGlyphs">01-09</tspan></text>
<text y="0" font-size="64.75" transform="translate(3032.68 3053.45) rotate(-30)"><tspan x="0" textLength="177.58" lengthAdjust="spacingAndGlyphs">01-10</tspan></text>
<text y="0" font-size="64.75" transform="translate(3351.87 3053.45) rotate(-30)"><tspan x="0" textLength="177.58" lengthAdjust="spacingAndGlyphs">01-11</tspan></text>
<text y="0" font-size="64.75" transform="translate(3660.76 3053.45) rotate(-30)"><tspan x="0" textLength="177.58" lengthAdjust="spacingAndGlyphs">01-12</tspan></text>
<text y="0" font-size="64.75" transform="translate(3979.95 3053.45) rotate(-30)"><tspan x="0" textLength="177.58" lengthAdjust="spacingAndGlyphs">01-01</tspan></text>
<text y="2815.2" font-size="64.75"><tspan x="135.67" textLength="38.88" lengthAdjust="spacingAndGlyphs">0</tspan></text>
<text y="2524.46" font-size="64.75"><tspan x="135.67" textLength="38.88" lengthAdjust="spacingAndGlyphs">1</tspan></text>
<text y="2233.71" font-size="64.75"><tspan x="135.67" textLength="38.88" lengthAdjust="spacingAndGlyphs">2</tspan></text>
<text y="1942.96" font-size="64.75"><tspan x="135.67" textLength="38.88" lengthAdjust="spacingAndGlyphs">3</tspan></text>
<text y="1652.21" font-size="64.75"><tspan x="135.67" textLength="38.88" lengthAdjust="spacingAndGlyphs">4</tspan></text>
<text y="1361.46" font-size="64.75"><tspan x="135.67" textLength="38.88" lengthAdjust="spacingAndGlyphs">5</tspan></text>
<text y="1070.71" font-size="64.75"><tspan x="135.67" textLength="38.88" lengthAdjust="spacingAndGlyphs">6</tspan></text>
<text y="779.96" font-size="64.75"><tspan x="135.67" textLength="38.88" lengthAdjust="spacingAndGlyphs">7</tspan></text>
<text y="489.22" font-size="64.75"><tspan x="135.67" textLength="38.88" lengthAdjust="spacingAndGlyphs">8</tspan></text>
<text y="3122" font-size="64.75"><tspan x="2200.66" textLength="120.68" lengthAdjust="spacingAndGlyphs">Day</tspan></text>
<text y="0" font-size="64.75" transform="translate(111.85 1624.5) rotate(-90)"><tspan x="-461.09" textLength="404.74" lengthAdjust="spacingAndGlyphs">Consumption</tspan> <tspan x="-36.93" textLength="294.44" lengthAdjust="spacingAndGlyphs">(Leontief)</tspan> <tspan x="276.93" textLength="184.16" lengthAdjust="spacingAndGlyphs">[TWh]</tspan></text>
<text y="330.83" font-size="64.75"><tspan x="3794.79" textLength="138.06" lengthAdjust="spacingAndGlyphs">time</tspan> <tspan x="3952.27" textLength="253.57" lengthAdjust="spacingAndGlyphs">interval:</tspan> <tspan x="4225.27" textLength="102.73" lengthAdjust="spacingAndGlyphs">1hr</tspan></text>
<text y="119.72" font-size="77.71"><tspan x="1225.32" textLength="418.55" lengthAdjust="spacingAndGlyphs">Cumulative</tspan> <tspan x="1667.18" textLength="474.8" lengthAdjust="spacingAndGlyphs">consumption</tspan> <tspan x="2165.28" textLength="334.12" lengthAdjust="spacingAndGlyphs">(leontief)</tspan> <tspan x="2522.71" textLength="66.85" lengthAdjust="spacingAndGlyphs">in</tspan> <tspan x="2612.87" textLength="152.95" lengthAdjust="spacingAndGlyphs">[NL]</tspan> <tspan x="2789.12" textLength="438.64" lengthAdjust="spacingAndGlyphs">netherlands</tspan> <tspan x="3251.06" textLength="26.46" lengthAdjust="spacingAndGlyphs">-</tspan> <tspan x="3300.83" textLength="273.85" lengthAdjust="spacingAndGlyphs">nuclear</tspan></text>
<text y="201.84" font-size="77.71"><tspan x="1913.7" textLength="426.18" lengthAdjust="spacingAndGlyphs">01-01-2016</tspan> <tspan x="2363.19" textLength="73.62" lengthAdjust="spacingAndGlyphs">to</tspan> <tspan x="2460.12" textLength="426.18" lengthAdjust="spacingAndGlyphs">01-01-2025</tspan></text>
<text y="66.03" font-size="64.75"><tspan x="4003.02" textLength="242.26" lengthAdjust="spacingAndGlyphs">Thomas</tspan> <tspan x="4264.7" textLength="177.21" lengthAdjust="spacingAndGlyphs">Auriel</tspan> <tspan x="4461.33" textLength="22.05" lengthAdjust="spacingAndGlyphs">-</tspan> <tspan x="4502.8" textLength="85.35" lengthAdjust="spacingAndGlyphs">CC</tspan> <tspan x="4607.57" textLength="172.43" lengthAdjust="spacingAndGlyphs">BY-SA</tspan></text>
<text y="134.47" font-size="64.75"><tspan x="3905.2" textLength="230.46" lengthAdjust="spacingAndGlyphs">Source:</tspan> <tspan x="4155.08" textLength="290.33" lengthAdjust="spacingAndGlyphs">ENTSO-E,</tspan> <tspan x="4464.83" textLength="140.22" lengthAdjust="spacingAndGlyphs">IPCC</tspan> <tspan x="4624.47" textLength="155.53" lengthAdjust="spacingAndGlyphs">2014</tspan></text>
</g>
<rect x="4359.5" y="375.4" width="375" height="824.1" rx="12.22" ry="12.22" fill="#ffffff" fill-opacity="0.8" stroke="#cccccc" stroke-opacity="0.8" stroke-width="2.78"/>
<path d="M4383 424.5H4505.22" stroke="#33c233" stroke-width="2.78" stroke-linecap="square" fill="none"/>
<path d="M4383 514H4505.22" stroke="#2aa22a" stroke-width="2.78" stroke-linecap="square" fill="none"/>
<path d="M4383 603.5H4505.22" stroke="#238224" stroke-width="2.78" stroke-linecap="square" fill="none"/>
<path d="M4383 693H4505.22" stroke="#165217" stroke-width="2.78" stroke-linecap="square" fill="none"/>
<path d="M4383 782.5H4505.22" stroke="#7a82dc" stroke-width="2.78" stroke-linecap="square" fill="none"/>
<path d="M4383 872H4505.22" stroke="#4a55d2" stroke-width="2.78" stroke-linecap="square" fill="none"/>
<path d="M4383 961.5H4505.22" stroke="#2d35b3" stroke-width="2.78" stroke-linecap="square" fill="none"/>
<path d="M4383 1051H4505.22" stroke="#202885" stroke-width="2.78" stroke-linecap="square" fill="none"/>
<path d="M4383 1140.5H4505.22" stroke="#141a52" stroke-width="2.78" stroke-linecap="square" fill="none"/>
<g font-family="&quot;Liberation Sans&quot;, sans-serif" fill="#000">
<text y="446" font-size="64.75"><tspan x="4554.11" textLength="155.53" lengthAdjust="spacingAndGlyphs">2016</tspan></text>
<text y="535.5" font-size="64.75"><tspan x="4554.11" textLength="155.53" lengthAdjust="spacingAndGlyphs">2017</tspan></text>
<text y="625" font-size="64.75"><tspan x="4554.11" textLength="155.53" lengthAdjust="spacingAndGlyphs">2018</tspan></text>
<text y="714.5" font-size="64.75"><tspan x="4554.11" textLength="155.53" lengthAdjust="spacingAndGlyphs">2019</tspan></text>
<text y="804" font-size="64.75"><tspan x="4554.11" textLength="155.53" lengthAdjust="spacingAndGlyphs">2020</tspan></text>
<text y="893.5" font-size="64.75"><tspan x="4554.11" textLength="155.53" lengthAdjust="spacingAndGlyphs">2021</tspan></text>
<text y="983" font-size="64.75"><tspan x="4554.11" textLength="155.53" lengthAdjust="spacingAndGlyphs">2022</tspan></text>
<text y="1072.5" font-size="64.75"><tspan x="4554.11" textLength="155.53" lengthAdjust="spacingAndGlyphs">2023</tspan></text>
<text y="1162" font-size="64.75"><tspan x="4554.11" textLength="155.53" lengthAdjust="spacingAndGlyphs">2024</tspan></text>
</g>
</svg></body></html>
